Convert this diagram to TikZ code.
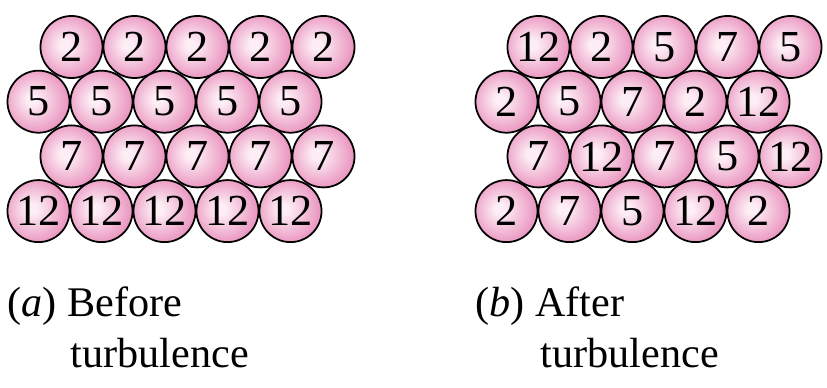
\documentclass[tikz,border=0pt]{standalone}
\usepackage{fontspec}
\setmainfont{Liberation Serif}
\definecolor{ballout}{RGB}{226,114,170}
\definecolor{ballin}{RGB}{253,238,245}
\pgfdeclareradialshading{ballshade}{\pgfpoint{-6bp}{2bp}}{color(0bp)=(ballin); color(4bp)=(ballin); color(36bp)=(ballout); color(50bp)=(ballout!90!black)}
\tikzset{
  ball/.style={circle, draw, line width=0.5pt, shading=ballshade, minimum size=0.62cm, inner sep=0pt, font=\fontsize{12.6}{14}\selectfont},
  lbl/.style={inner sep=0pt, anchor=base west, font=\fontsize{12}{14}\selectfont}
}

\begin{document}
\begin{tikzpicture}[x=0.01cm,y=-0.01cm]
  \useasboundingbox (0,0) rectangle (827,388);
  % (a) before turbulence
  \foreach \n [count=\r] in {2,5,7,12} {
    \pgfmathsetmacro{\xo}{mod(\r,2)==1 ? 71.5 : 38.5}
    \foreach \c in {0,...,4}
      \node[ball] (a\r\c) at ({\xo+63*\c},{47+54.7*(\r-1)}) {\n};
  }
  % (b) after turbulence
  \foreach \row [count=\r] in {{12,2,5,7,5},{2,5,7,2,12},{7,12,7,5,12},{2,7,5,12,2}} {
    \pgfmathsetmacro{\xo}{mod(\r,2)==1 ? 538.5 : 506.5}
    \foreach \n [count=\c from 0] in \row
      \node[ball] (b\r\c) at ({\xo+63*\c},{47+54.7*(\r-1)}) {\n};
  }
  \node[lbl] (capa) at (7,317) {(\textit{a}) Before};
  \node[lbl] (turba) at (70,367) {turbulence};
  \node[lbl] (capb) at (475,317) {(\textit{b}) After};
  \node[lbl] (turbb) at (540,367) {turbulence};
\end{tikzpicture}
\end{document}
